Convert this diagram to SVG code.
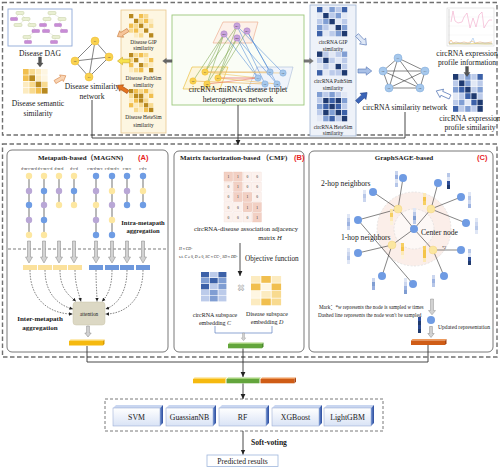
<svg xmlns="http://www.w3.org/2000/svg" width="500" height="467" viewBox="0 0 500 467">
<defs>
<style>
text{font-family:"Liberation Serif","Times New Roman","Noto Sans CJK SC",serif;fill:#1a1a1a}
.lbl{font-size:7.6px;text-anchor:middle}
.sm{font-size:5.3px;text-anchor:middle}
.tt{font-size:7px;font-weight:bold}
.red{font-family:"Liberation Sans",Arial,sans-serif;font-weight:bold;fill:#e8231e;font-size:7.5px}
.dbox{fill:none;stroke:#707070;stroke-width:1.4;stroke-dasharray:4.5 2.5}
.panel{fill:#fff;stroke:#555;stroke-width:0.8}
.conn{fill:none;stroke:#333;stroke-width:0.9}
.e{stroke:#333;stroke-width:0.6}
.ch{stroke:#8a8a8a;stroke-width:1.2}
.ny{fill:#fde7a0}
.np{fill:#b9a7d6}
.nb{fill:#6e9ce4}
.ga{fill:#d2d2d2;stroke:#858585;stroke-width:0.5}
.dl{fill:none;stroke:#333;stroke-width:0.6;stroke-dasharray:1.6 1.2}
.y0{fill:#b8891f}.y1{fill:#f1bf4f}.y2{fill:#f8da8f}.y3{fill:#fcebc0}.y4{fill:#fef6e2}
.b0{fill:#1f3a70}.b1{fill:#3c61a8}.b2{fill:#809ed3}.b3{fill:#bccbea}.b4{fill:#e2e8f5}
.dn{fill:#f9d250;stroke:#eeb82e;stroke-width:0.5}
.cn{fill:#a6c8ec;stroke:#7fa9d8;stroke-width:0.5}
.mn{fill:#c9a3dc;stroke:#a982c2;stroke-width:0.5}
.nl{font-size:2.6px;text-anchor:middle;fill:#444}
.gd{fill:#e9efd2;stroke:#b9c58f;stroke-width:0.4}
.pu{fill:#c88bd6;stroke:#a86ab8;stroke-width:0.4}
.a1{fill:#f2d0c4;stroke:#e6b8aa;stroke-width:0.3}
.a0{fill:#fcf1ed;stroke:#f0ddd6;stroke-width:0.3}
.av{font-size:3.6px;text-anchor:middle;fill:#555}
.cf{fill:url(#gf);stroke:#8ea3cf;stroke-width:0.5}
.cs{fill:url(#gs2)}
.ct{fill:#c9d6f0}
</style>
<linearGradient id="gf" x1="0" y1="0" x2="0" y2="1"><stop offset="0" stop-color="#ffffff"/><stop offset="1" stop-color="#d9e3f6"/></linearGradient>
<linearGradient id="gs2" x1="0" y1="0" x2="1" y2="0"><stop offset="0" stop-color="#6d8fd2"/><stop offset="1" stop-color="#2b4b9c"/></linearGradient>
<marker id="ah" markerWidth="6" markerHeight="6" refX="5" refY="3" orient="auto" markerUnits="userSpaceOnUse"><path d="M0,0.6 L5,3 L0,5.4Z" fill="#222"/></marker>
<marker id="ahs" markerWidth="4" markerHeight="4" refX="3.6" refY="2" orient="auto" markerUnits="userSpaceOnUse"><path d="M0,0.3 L3.6,2 L0,3.7Z" fill="#222"/></marker>
<path id="ba" d="M0,-1.8H7.5V-3.8L12.5,0L7.5,3.8V1.8H0Z"/>
<path id="gl" d="M-1.5,0V16H-3.5L0,22L3.5,16H1.5V0Z"/>
<path id="gsa" d="M-1.4,0V7H-3.2L0,11L3.2,7H1.4V0Z"/>
</defs>

<!-- outer dashed boxes -->
<rect class="dbox" x="2.5" y="2.5" width="494.5" height="132.5"/>
<rect class="dbox" x="2.5" y="144" width="494.5" height="213"/>

<!-- Disease DAG -->
<g id="disease-dag">
<rect x="8" y="9" width="64" height="37" fill="#fff" stroke="#8fa8d8" stroke-width="0.9"/>
<g stroke="#c9cfb0" stroke-width="0.35">
<line x1="20" y1="13" x2="14" y2="19"/><line x1="20" y1="13" x2="26" y2="19"/>
<line x1="52" y1="13" x2="47" y2="19"/><line x1="52" y1="13" x2="62" y2="19"/>
<line x1="26" y1="19" x2="18" y2="25"/><line x1="26" y1="19" x2="32" y2="25"/>
<line x1="47" y1="19" x2="43" y2="25"/><line x1="62" y1="19" x2="58" y2="25"/>
<line x1="32" y1="25" x2="36" y2="31"/><line x1="43" y1="25" x2="46" y2="31"/>
<line x1="58" y1="25" x2="64" y2="31"/><line x1="36" y1="31" x2="27" y2="37"/>
<line x1="46" y1="31" x2="56" y2="37"/><line x1="27" y1="37" x2="28" y2="42"/><line x1="56" y1="37" x2="54" y2="42"/>
</g>
<rect class="gd" x="16" y="11.5" width="8" height="3" rx="1"/>
<rect class="gd" x="48" y="11.5" width="8" height="3" rx="1"/>
<rect class="pu" x="10.5" y="17.5" width="7" height="3" rx="0.6"/>
<rect class="gd" x="22" y="17.5" width="8" height="3" rx="1"/>
<rect class="gd" x="43" y="17.5" width="8" height="3" rx="1"/>
<rect class="gd" x="58" y="17.5" width="8" height="3" rx="1"/>
<rect class="gd" x="14" y="23.5" width="8" height="3" rx="1"/>
<rect class="gd" x="28" y="23.5" width="8" height="3" rx="1"/>
<rect class="pu" x="39.5" y="23.5" width="7" height="3" rx="0.6"/>
<rect class="pu" x="54.5" y="23.5" width="7" height="3" rx="0.6"/>
<rect class="pu" x="32" y="29.5" width="7.5" height="3" rx="0.6"/>
<rect class="pu" x="42.5" y="29.5" width="7" height="3" rx="0.6"/>
<rect class="pu" x="60.5" y="29.5" width="7" height="3" rx="0.6"/>
<rect class="gd" x="23" y="35.5" width="8" height="3" rx="1"/>
<rect class="gd" x="52" y="35.5" width="8" height="3" rx="1"/>
<rect class="pu" x="24.5" y="40.5" width="7" height="3" rx="0.6"/>
<rect class="pu" x="50.5" y="40.5" width="7" height="3" rx="0.6"/>
<text class="lbl" x="40" y="55.5">Disease DAG</text>
</g>

<!-- Disease semantic similarity -->
<g id="disease-semantic">
<rect class="y1" x="23" y="69" width="5.7" height="5.7"/><rect class="y2" x="29.3" y="69" width="5.7" height="5.7"/><rect class="y3" x="35.6" y="69" width="5.7" height="5.7"/><rect class="y4" x="41.9" y="69" width="5.7" height="5.7"/>
<rect class="y1" x="23" y="75.3" width="5.7" height="5.7"/><rect class="y0" x="29.3" y="75.3" width="5.7" height="5.7"/><rect class="y3" x="35.6" y="75.3" width="5.7" height="5.7"/><rect class="y4" x="41.9" y="75.3" width="5.7" height="5.7"/>
<rect class="y3" x="23" y="81.6" width="5.7" height="5.7"/><rect class="y2" x="29.3" y="81.6" width="5.7" height="5.7"/><rect class="y0" x="35.6" y="81.6" width="5.7" height="5.7"/><rect class="y2" x="41.9" y="81.6" width="5.7" height="5.7"/>
<rect class="y3" x="23" y="87.9" width="5.7" height="5.7"/><rect class="y2" x="29.3" y="87.9" width="5.7" height="5.7"/><rect class="y1" x="35.6" y="87.9" width="5.7" height="5.7"/><rect class="y0" x="41.9" y="87.9" width="5.7" height="5.7"/>
<text class="lbl" x="38" y="105.5">Disease semantic</text>
<text class="lbl" x="38" y="115.5">similarity</text>
</g>

<!-- Disease similarity network -->
<g id="disease-sim-network">
<g class="e"><line x1="95" y1="41" x2="75" y2="61"/><line x1="95" y1="41" x2="109" y2="57"/><line x1="95" y1="41" x2="89" y2="77"/><line x1="75" y1="61" x2="109" y2="57"/><line x1="75" y1="61" x2="89" y2="77"/><line x1="109" y1="57" x2="89" y2="77"/></g>
<circle class="dn" cx="95" cy="41" r="4"/><circle class="dn" cx="75" cy="61" r="4"/><circle class="dn" cx="109" cy="57" r="4"/><circle class="dn" cx="89" cy="77" r="4"/>
<text class="nl" x="95" y="42">d1</text><text class="nl" x="75" y="62">d2</text><text class="nl" x="109" y="58">d4</text><text class="nl" x="89" y="78">d3</text>
<text class="lbl" x="92" y="88.5">Disease similarity</text>
<text class="lbl" x="92" y="98.5">network</text>
</g>

<!-- Disease similarity matrices panel -->
<g id="disease-sim-panel">
<rect x="121" y="10" width="45" height="123" fill="#fdf6e1" stroke="#e8c98e" stroke-width="0.8"/>
<g>
<rect class="y0" x="129" y="14" width="4.3" height="4.3"/><rect class="y4" x="134" y="14" width="4.3" height="4.3"/><rect class="y1" x="139" y="14" width="4.3" height="4.3"/><rect class="y2" x="144" y="14" width="4.3" height="4.3"/><rect class="y4" x="149" y="14" width="4.3" height="4.3"/>
<rect class="y4" x="129" y="18.8" width="4.3" height="4.3"/><rect class="y0" x="134" y="18.8" width="4.3" height="4.3"/><rect class="y2" x="139" y="18.8" width="4.3" height="4.3"/><rect class="y1" x="144" y="18.8" width="4.3" height="4.3"/><rect class="y3" x="149" y="18.8" width="4.3" height="4.3"/>
<rect class="y1" x="129" y="23.6" width="4.3" height="4.3"/><rect class="y2" x="134" y="23.6" width="4.3" height="4.3"/><rect class="y0" x="139" y="23.6" width="4.3" height="4.3"/><rect class="y3" x="144" y="23.6" width="4.3" height="4.3"/><rect class="y2" x="149" y="23.6" width="4.3" height="4.3"/>
<rect class="y2" x="129" y="28.4" width="4.3" height="4.3"/><rect class="y1" x="134" y="28.4" width="4.3" height="4.3"/><rect class="y3" x="139" y="28.4" width="4.3" height="4.3"/><rect class="y0" x="144" y="28.4" width="4.3" height="4.3"/><rect class="y4" x="149" y="28.4" width="4.3" height="4.3"/>
<rect class="y4" x="129" y="33.2" width="4.3" height="4.3"/><rect class="y3" x="134" y="33.2" width="4.3" height="4.3"/><rect class="y2" x="139" y="33.2" width="4.3" height="4.3"/><rect class="y4" x="144" y="33.2" width="4.3" height="4.3"/><rect class="y0" x="149" y="33.2" width="4.3" height="4.3"/>
</g>
<text class="sm" x="143.5" y="43.5">Disease GIP</text><text class="sm" x="143.5" y="50">similarity</text>
<g>
<rect class="y0" x="129" y="53" width="4.3" height="4.3"/><rect class="y2" x="134" y="53" width="4.3" height="4.3"/><rect class="y1" x="139" y="53" width="4.3" height="4.3"/><rect class="y2" x="144" y="53" width="4.3" height="4.3"/><rect class="y4" x="149" y="53" width="4.3" height="4.3"/>
<rect class="y2" x="129" y="58" width="4.3" height="4.3"/><rect class="y0" x="134" y="58" width="4.3" height="4.3"/><rect class="y4" x="139" y="58" width="4.3" height="4.3"/><rect class="y3" x="144" y="58" width="4.3" height="4.3"/><rect class="y1" x="149" y="58" width="4.3" height="4.3"/>
<rect class="y1" x="129" y="63" width="4.3" height="4.3"/><rect class="y4" x="134" y="63" width="4.3" height="4.3"/><rect class="y0" x="139" y="63" width="4.3" height="4.3"/><rect class="y2" x="144" y="63" width="4.3" height="4.3"/><rect class="y3" x="149" y="63" width="4.3" height="4.3"/>
<rect class="y3" x="129" y="68" width="4.3" height="4.3"/><rect class="y2" x="134" y="68" width="4.3" height="4.3"/><rect class="y1" x="139" y="68" width="4.3" height="4.3"/><rect class="y4" x="144" y="68" width="4.3" height="4.3"/><rect class="y0" x="149" y="68" width="4.3" height="4.3"/>
</g>
<text class="sm" x="143.5" y="80">Disease PathSim</text><text class="sm" x="143.5" y="87">similarity</text>
<g>
<rect class="y0" x="129" y="89" width="4.3" height="4.3"/><rect class="y1" x="134" y="89" width="4.3" height="4.3"/><rect class="y2" x="139" y="89" width="4.3" height="4.3"/><rect class="y1" x="144" y="89" width="4.3" height="4.3"/><rect class="y3" x="149" y="89" width="4.3" height="4.3"/>
<rect class="y2" x="129" y="93.7" width="4.3" height="4.3"/><rect class="y0" x="134" y="93.7" width="4.3" height="4.3"/><rect class="y0" x="139" y="93.7" width="4.3" height="4.3"/><rect class="y3" x="144" y="93.7" width="4.3" height="4.3"/><rect class="y1" x="149" y="93.7" width="4.3" height="4.3"/>
<rect class="y3" x="129" y="98.4" width="4.3" height="4.3"/><rect class="y1" x="134" y="98.4" width="4.3" height="4.3"/><rect class="y0" x="139" y="98.4" width="4.3" height="4.3"/><rect class="y2" x="144" y="98.4" width="4.3" height="4.3"/><rect class="y4" x="149" y="98.4" width="4.3" height="4.3"/>
<rect class="y1" x="129" y="103.1" width="4.3" height="4.3"/><rect class="y3" x="134" y="103.1" width="4.3" height="4.3"/><rect class="y2" x="139" y="103.1" width="4.3" height="4.3"/><rect class="y0" x="144" y="103.1" width="4.3" height="4.3"/><rect class="y2" x="149" y="103.1" width="4.3" height="4.3"/>
<rect class="y4" x="129" y="107.8" width="4.3" height="4.3"/><rect class="y2" x="134" y="107.8" width="4.3" height="4.3"/><rect class="y3" x="139" y="107.8" width="4.3" height="4.3"/><rect class="y1" x="144" y="107.8" width="4.3" height="4.3"/><rect class="y0" x="149" y="107.8" width="4.3" height="4.3"/>
</g>
<text class="sm" x="143.5" y="119">Disease HeteSim</text><text class="sm" x="143.5" y="127">similarity</text>
</g>

<!-- Heterogeneous network -->
<g id="hetero-network">
<rect x="172" y="15" width="132" height="90" fill="#fafdf6" stroke="#9cc77c" stroke-width="0.9"/>
<polygon points="223,22 258,22 252,43 213,43" fill="#fdf1e9" stroke="#eba584" stroke-width="0.6"/>
<polygon points="192,67 228,67 220,89 183,89" fill="#fdf6dc" stroke="#e9b82c" stroke-width="0.6"/>
<polygon points="257,67 293,67 287,89 248,89" fill="#f0f4fb" stroke="#a9bcd8" stroke-width="0.6"/>
<g stroke="#6f9d3c" stroke-width="0.5">
<line x1="224" y1="34" x2="193" y2="81"/><line x1="224" y1="34" x2="205" y2="72"/><line x1="237" y1="26" x2="205" y2="72"/><line x1="237" y1="26" x2="218" y2="78"/><line x1="237" y1="38" x2="218" y2="78"/><line x1="237" y1="38" x2="207" y2="84"/><line x1="224" y1="34" x2="207" y2="84"/><line x1="247" y1="31" x2="218" y2="78"/>
</g>
<g stroke="#3c7fd2" stroke-width="0.5">
<line x1="237" y1="26" x2="283" y2="73"/><line x1="247" y1="31" x2="270" y2="72"/><line x1="237" y1="38" x2="258" y2="78"/><line x1="237" y1="38" x2="277" y2="84"/><line x1="247" y1="31" x2="277" y2="84"/><line x1="237" y1="26" x2="265" y2="84"/><line x1="224" y1="34" x2="258" y2="78"/>
</g>
<g stroke-width="0.6">
<line x1="205" y1="72" x2="270" y2="72" stroke="#e9a846"/><line x1="205" y1="72" x2="258" y2="78" stroke="#f0c462"/><line x1="218" y1="78" x2="258" y2="78" stroke="#e24b4b"/><line x1="193" y1="81" x2="265" y2="84" stroke="#e9a846"/><line x1="207" y1="84" x2="258" y2="78" stroke="#e8705e"/><line x1="218" y1="78" x2="277" y2="84" stroke="#f0b252"/><line x1="205" y1="72" x2="283" y2="73" stroke="#ecc06a"/>
</g>
<circle class="mn" cx="237" cy="26" r="3.2"/><circle class="mn" cx="224" cy="34" r="3.2"/><circle class="mn" cx="247" cy="31" r="3.2"/><circle class="mn" cx="237" cy="38" r="3.2"/>
<text class="nl" x="237" y="27">m1</text><text class="nl" x="224" y="35">m2</text><text class="nl" x="247" y="32">m3</text><text class="nl" x="237" y="39">m4</text>
<circle class="dn" cx="205" cy="72" r="3.2"/><circle class="dn" cx="193" cy="81" r="3.2"/><circle class="dn" cx="218" cy="78" r="3.2"/><circle class="dn" cx="207" cy="84" r="3.2"/>
<text class="nl" x="205" y="73">d1</text><text class="nl" x="193" y="82">d2</text><text class="nl" x="218" y="79">d3</text><text class="nl" x="207" y="85">d4</text>
<circle class="cn" cx="270" cy="72" r="3.2"/><circle class="cn" cx="283" cy="73" r="3.2"/><circle class="cn" cx="258" cy="78" r="3.2"/><circle class="cn" cx="277" cy="84" r="3.2"/><circle class="cn" cx="265" cy="84" r="3.2"/>
<text class="nl" x="270" y="73">c1</text><text class="nl" x="283" y="74">c2</text><text class="nl" x="258" y="79">c3</text><text class="nl" x="277" y="85">c4</text><text class="nl" x="265" y="85">c5</text>
<text class="lbl" x="238" y="92">circRNA-miRNA-disease triplet</text>
<text class="lbl" x="238" y="101.5">heterogeneous network</text>
</g>

<!-- circRNA similarity matrices panel -->
<g id="circ-sim-panel">
<rect x="310" y="5" width="46" height="131" fill="#eef2f9" stroke="#9fb3d3" stroke-width="0.8"/>
<g>
<rect class="b1" x="317" y="7" width="5.4" height="5.3"/><rect class="b4" x="323.2" y="7" width="5.4" height="5.3"/><rect class="b2" x="329.4" y="7" width="5.4" height="5.3"/><rect class="b3" x="335.6" y="7" width="5.4" height="5.3"/><rect class="b1" x="341.8" y="7" width="5.4" height="5.3"/>
<rect class="b4" x="317" y="13" width="5.4" height="5.3"/><rect class="b0" x="323.2" y="13" width="5.4" height="5.3"/><rect class="b3" x="329.4" y="13" width="5.4" height="5.3"/><rect class="b2" x="335.6" y="13" width="5.4" height="5.3"/><rect class="b4" x="341.8" y="13" width="5.4" height="5.3"/>
<rect class="b3" x="317" y="19" width="5.4" height="5.3"/><rect class="b2" x="323.2" y="19" width="5.4" height="5.3"/><rect class="b0" x="329.4" y="19" width="5.4" height="5.3"/><rect class="b4" x="335.6" y="19" width="5.4" height="5.3"/><rect class="b3" x="341.8" y="19" width="5.4" height="5.3"/>
<rect class="b2" x="317" y="25" width="5.4" height="5.3"/><rect class="b3" x="323.2" y="25" width="5.4" height="5.3"/><rect class="b4" x="329.4" y="25" width="5.4" height="5.3"/><rect class="b0" x="335.6" y="25" width="5.4" height="5.3"/><rect class="b2" x="341.8" y="25" width="5.4" height="5.3"/>
<rect class="b1" x="317" y="31" width="5.4" height="5.3"/><rect class="b4" x="323.2" y="31" width="5.4" height="5.3"/><rect class="b3" x="329.4" y="31" width="5.4" height="5.3"/><rect class="b2" x="335.6" y="31" width="5.4" height="5.3"/><rect class="b0" x="341.8" y="31" width="5.4" height="5.3"/>
</g>
<text class="sm" x="333" y="44">circRNA GIP</text><text class="sm" x="333" y="50.5">similarity</text>
<g>
<rect class="b0" x="317" y="51.5" width="5.4" height="5.4"/><rect class="b3" x="323.2" y="51.5" width="5.4" height="5.4"/><rect class="b4" x="329.4" y="51.5" width="5.4" height="5.4"/><rect class="b3" x="335.6" y="51.5" width="5.4" height="5.4"/><rect class="b2" x="341.8" y="51.5" width="5.4" height="5.4"/>
<rect class="b3" x="317" y="57.7" width="5.4" height="5.4"/><rect class="b0" x="323.2" y="57.7" width="5.4" height="5.4"/><rect class="b3" x="329.4" y="57.7" width="5.4" height="5.4"/><rect class="b4" x="335.6" y="57.7" width="5.4" height="5.4"/><rect class="b3" x="341.8" y="57.7" width="5.4" height="5.4"/>
<rect class="b4" x="317" y="63.9" width="5.4" height="5.4"/><rect class="b3" x="323.2" y="63.9" width="5.4" height="5.4"/><rect class="b4" x="329.4" y="63.9" width="5.4" height="5.4"/><rect class="b0" x="335.6" y="63.9" width="5.4" height="5.4"/><rect class="b3" x="341.8" y="63.9" width="5.4" height="5.4"/>
<rect class="b1" x="317" y="70.1" width="5.4" height="5.4"/><rect class="b4" x="323.2" y="70.1" width="5.4" height="5.4"/><rect class="b3" x="329.4" y="70.1" width="5.4" height="5.4"/><rect class="b3" x="335.6" y="70.1" width="5.4" height="5.4"/><rect class="b0" x="341.8" y="70.1" width="5.4" height="5.4"/>
</g>
<text class="sm" x="333" y="83">circRNA PathSim</text><text class="sm" x="333" y="90">similarity</text>
<g>
<rect class="b2" x="317" y="92" width="5.4" height="5.3"/><rect class="b3" x="323.2" y="92" width="5.4" height="5.3"/><rect class="b2" x="329.4" y="92" width="5.4" height="5.3"/><rect class="b3" x="335.6" y="92" width="5.4" height="5.3"/><rect class="b4" x="341.8" y="92" width="5.4" height="5.3"/>
<rect class="b3" x="317" y="98" width="5.4" height="5.3"/><rect class="b0" x="323.2" y="98" width="5.4" height="5.3"/><rect class="b1" x="329.4" y="98" width="5.4" height="5.3"/><rect class="b0" x="335.6" y="98" width="5.4" height="5.3"/><rect class="b2" x="341.8" y="98" width="5.4" height="5.3"/>
<rect class="b2" x="317" y="104" width="5.4" height="5.3"/><rect class="b1" x="323.2" y="104" width="5.4" height="5.3"/><rect class="b0" x="329.4" y="104" width="5.4" height="5.3"/><rect class="b1" x="335.6" y="104" width="5.4" height="5.3"/><rect class="b3" x="341.8" y="104" width="5.4" height="5.3"/>
<rect class="b3" x="317" y="110" width="5.4" height="5.3"/><rect class="b0" x="323.2" y="110" width="5.4" height="5.3"/><rect class="b2" x="329.4" y="110" width="5.4" height="5.3"/><rect class="b0" x="335.6" y="110" width="5.4" height="5.3"/><rect class="b1" x="341.8" y="110" width="5.4" height="5.3"/>
<rect class="b4" x="317" y="116" width="5.4" height="5.3"/><rect class="b2" x="323.2" y="116" width="5.4" height="5.3"/><rect class="b1" x="329.4" y="116" width="5.4" height="5.3"/><rect class="b3" x="335.6" y="116" width="5.4" height="5.3"/><rect class="b0" x="341.8" y="116" width="5.4" height="5.3"/>
</g>
<text class="sm" x="333" y="128.5">circRNA HeteSim</text><text class="sm" x="333" y="135">similarity</text>
</g>

<!-- circRNA similarity network -->
<g id="circ-sim-network">
<g class="e"><line x1="398" y1="58" x2="383" y2="71"/><line x1="398" y1="58" x2="425" y2="71"/><line x1="398" y1="58" x2="420" y2="88"/><line x1="398" y1="58" x2="389" y2="88"/><line x1="383" y1="71" x2="425" y2="71"/><line x1="383" y1="71" x2="420" y2="88"/><line x1="383" y1="71" x2="389" y2="88"/><line x1="425" y1="71" x2="420" y2="88"/><line x1="425" y1="71" x2="389" y2="88"/><line x1="420" y1="88" x2="389" y2="88"/></g>
<circle class="cn" cx="398" cy="58" r="4"/><circle class="cn" cx="383" cy="71" r="4"/><circle class="cn" cx="425" cy="71" r="4"/><circle class="cn" cx="420" cy="88" r="4"/><circle class="cn" cx="389" cy="88" r="4"/>
<text class="nl" x="398" y="59">c1</text><text class="nl" x="383" y="72">c2</text><text class="nl" x="425" y="72">c3</text><text class="nl" x="420" y="89">c4</text><text class="nl" x="389" y="89">c5</text>
<text class="lbl" x="405" y="109.5">circRNA similarity network</text>
</g>

<!-- circRNA expression profile information -->
<g id="circ-expr-info">
<rect x="447" y="8" width="47" height="38" fill="#fff" stroke="#cfcfcf" stroke-width="0.5"/>
<g stroke="#eeeeee" stroke-width="0.4"><line x1="448" y1="17" x2="494" y2="17"/><line x1="448" y1="26" x2="494" y2="26"/><line x1="448" y1="35" x2="494" y2="35"/></g>
<line x1="449" y1="9" x2="449" y2="44" stroke="#999" stroke-width="0.4"/>
<line x1="449" y1="44" x2="493" y2="44" stroke="#999" stroke-width="0.4"/>
<polyline points="451,22 453,11 455,21 458,23 462,22 464,17 467,13 470,28 473,18 476,27 479,15 482,12 484,28 487,23 489,20 492,20" fill="none" stroke="#f2a7c9" stroke-width="0.6"/>
<polyline points="449,43 451,40 453,43 456,42 460,43 464,42 468,43 472,41 475,43 480,42 485,43 492,42" fill="none" stroke="#f0a050" stroke-width="0.5"/>
<polyline points="449,43.5 460,43 470,43.5 473,38 475,43.5 485,43 492,43.5" fill="none" stroke="#8cb8e8" stroke-width="0.5"/>
<polyline points="449,44 458,43.5 466,44 476,43.5 486,44 492,43.8" fill="none" stroke="#f2d040" stroke-width="0.5"/>
<text class="lbl" x="467" y="55.5">circRNA expression</text>
<text class="lbl" x="467" y="65">profile information</text>
</g>

<!-- circRNA expression profile similarity -->
<g id="circ-expr-sim">
<rect class="b0" x="453" y="74" width="5.4" height="5.8"/><rect class="b3" x="459.1" y="74" width="5.4" height="5.8"/><rect class="b2" x="465.2" y="74" width="5.4" height="5.8"/><rect class="b3" x="471.3" y="74" width="5.4" height="5.8"/><rect class="b1" x="477.4" y="74" width="5.4" height="5.8"/>
<rect class="b3" x="453" y="80.4" width="5.4" height="5.8"/><rect class="b0" x="459.1" y="80.4" width="5.4" height="5.8"/><rect class="b2" x="465.2" y="80.4" width="5.4" height="5.8"/><rect class="b4" x="471.3" y="80.4" width="5.4" height="5.8"/><rect class="b3" x="477.4" y="80.4" width="5.4" height="5.8"/>
<rect class="b2" x="453" y="86.8" width="5.4" height="5.8"/><rect class="b1" x="459.1" y="86.8" width="5.4" height="5.8"/><rect class="b0" x="465.2" y="86.8" width="5.4" height="5.8"/><rect class="b3" x="471.3" y="86.8" width="5.4" height="5.8"/><rect class="b2" x="477.4" y="86.8" width="5.4" height="5.8"/>
<rect class="b4" x="453" y="93.2" width="5.4" height="5.8"/><rect class="b3" x="459.1" y="93.2" width="5.4" height="5.8"/><rect class="b1" x="465.2" y="93.2" width="5.4" height="5.8"/><rect class="b0" x="471.3" y="93.2" width="5.4" height="5.8"/><rect class="b3" x="477.4" y="93.2" width="5.4" height="5.8"/>
<rect class="b3" x="453" y="99.6" width="5.4" height="5.8"/><rect class="b2" x="459.1" y="99.6" width="5.4" height="5.8"/><rect class="b4" x="465.2" y="99.6" width="5.4" height="5.8"/><rect class="b1" x="471.3" y="99.6" width="5.4" height="5.8"/><rect class="b0" x="477.4" y="99.6" width="5.4" height="5.8"/>
<rect class="b1" x="453" y="106" width="5.4" height="5.8"/><rect class="b3" x="459.1" y="106" width="5.4" height="5.8"/><rect class="b2" x="465.2" y="106" width="5.4" height="5.8"/><rect class="b3" x="471.3" y="106" width="5.4" height="5.8"/><rect class="b0" x="477.4" y="106" width="5.4" height="5.8"/>
<text class="lbl" x="470" y="120.5">circRNA expression</text>
<text class="lbl" x="470" y="129.5">profile similarity</text>
</g>

<!-- Panel A -->
<g id="panel-a">
<rect class="panel" x="7" y="150" width="161" height="202" rx="5"/>
<text class="tt" x="38" y="159.5">Metapath-based（MAGNN)</text>
<text class="red" x="138" y="160">(A)</text>
<g style="font-size:3.6px;text-anchor:middle;fill:#555">
<text x="29" y="170">d-m-c-m-d</text><text x="45" y="170">d-c-m-c-d</text><text x="59" y="170">d-m-d</text><text x="74" y="170">d-c-d</text>
<text x="95" y="170">c-m-d-m-c</text><text x="112" y="170">c-d-m-d-c</text><text x="127" y="170">c-m-c</text><text x="143" y="170">c-d-c</text>
</g>
<g class="ch">
<line x1="29" y1="176" x2="29" y2="235"/><line x1="44" y1="176" x2="44" y2="235"/><line x1="59" y1="176" x2="59" y2="205"/><line x1="74" y1="176" x2="74" y2="205"/>
<line x1="96" y1="176" x2="96" y2="235"/><line x1="112" y1="176" x2="112" y2="235"/><line x1="127" y1="176" x2="127" y2="205"/><line x1="143" y1="176" x2="143" y2="205"/>
</g>
<circle class="ny" cx="29" cy="176" r="3.2"/><circle class="np" cx="29" cy="191" r="3.2"/><circle class="nb" cx="29" cy="205" r="3.2"/><circle class="np" cx="29" cy="220" r="3.2"/><circle class="ny" cx="29" cy="235" r="3.2"/>
<circle class="ny" cx="44" cy="176" r="3.2"/><circle class="nb" cx="44" cy="191" r="3.2"/><circle class="np" cx="44" cy="205" r="3.2"/><circle class="nb" cx="44" cy="220" r="3.2"/><circle class="ny" cx="44" cy="235" r="3.2"/>
<circle class="ny" cx="59" cy="176" r="3.2"/><circle class="np" cx="59" cy="191" r="3.2"/><circle class="ny" cx="59" cy="205" r="3.2"/>
<circle class="ny" cx="74" cy="176" r="3.2"/><circle class="nb" cx="74" cy="191" r="3.2"/><circle class="ny" cx="74" cy="205" r="3.2"/>
<circle class="nb" cx="96" cy="176" r="3.2"/><circle class="np" cx="96" cy="191" r="3.2"/><circle class="ny" cx="96" cy="205" r="3.2"/><circle class="np" cx="96" cy="220" r="3.2"/><circle class="nb" cx="96" cy="235" r="3.2"/>
<circle class="nb" cx="112" cy="176" r="3.2"/><circle class="ny" cx="112" cy="191" r="3.2"/><circle class="np" cx="112" cy="205" r="3.2"/><circle class="ny" cx="112" cy="220" r="3.2"/><circle class="nb" cx="112" cy="235" r="3.2"/>
<circle class="nb" cx="127" cy="176" r="3.2"/><circle class="np" cx="127" cy="191" r="3.2"/><circle class="nb" cx="127" cy="205" r="3.2"/>
<circle class="nb" cx="143" cy="176" r="3.2"/><circle class="ny" cx="143" cy="191" r="3.2"/><circle class="nb" cx="143" cy="205" r="3.2"/>
<text class="tt" x="143" y="225" style="font-size:6.6px;text-anchor:middle">Intra-metapath</text>
<text class="tt" x="143" y="232.5" style="font-size:6.6px;text-anchor:middle">aggregation</text>
<line x1="8" y1="249" x2="167" y2="249" stroke="#444" stroke-width="0.7" stroke-dasharray="3 2"/>
<use href="#gl" class="ga" transform="translate(29,241)"/><use href="#gl" class="ga" transform="translate(44,241)"/><use href="#gl" class="ga" transform="translate(59,241)"/><use href="#gl" class="ga" transform="translate(74,241)"/>
<use href="#gl" class="ga" transform="translate(96,241)"/><use href="#gl" class="ga" transform="translate(112,241)"/><use href="#gl" class="ga" transform="translate(127,241)"/><use href="#gl" class="ga" transform="translate(143,241)"/>
<g fill="#fbe19c"><rect x="23" y="265" width="14" height="5"/><rect x="38" y="265" width="14" height="5"/><rect x="53" y="265" width="14" height="5"/><rect x="68" y="265" width="14" height="5"/></g>
<g fill="#6e98dc"><rect x="89" y="265" width="14" height="5"/><rect x="105" y="265" width="14" height="5"/><rect x="120" y="265" width="14" height="5"/><rect x="136" y="265" width="14" height="5"/></g>
<g class="dl">
<path d="M30,270 C30,300 50,314 72.5,314" marker-end="url(#ahs)"/>
<path d="M45,270 C45,295 60,306 73,309" marker-end="url(#ahs)"/>
<path d="M60,270 C60,290 70,296 76,301.5" marker-end="url(#ahs)"/>
<path d="M75,270 C75,285 79,294 81,301.5" marker-end="url(#ahs)"/>
<path d="M96,270 C96,285 97,294 97,301.5" marker-end="url(#ahs)"/>
<path d="M112,270 C112,290 106,297 102,301.5" marker-end="url(#ahs)"/>
<path d="M127,270 C127,295 115,306 105.5,309" marker-end="url(#ahs)"/>
<path d="M143,270 C143,300 125,314 105.5,314" marker-end="url(#ahs)"/>
</g>
<rect x="73" y="302" width="32" height="23" rx="3" fill="#dcd8c4" stroke="#cbc5ab" stroke-width="0.5"/>
<text x="89" y="316" style="font-size:5.2px;text-anchor:middle">attention</text>
<use href="#gsa" class="ga" transform="translate(88,326)"/>
<text class="tt" x="40" y="320.5" style="font-size:7px;text-anchor:middle">Inter-metapath</text>
<text class="tt" x="40" y="329.5" style="font-size:7px;text-anchor:middle">aggregation</text>
<polygon points="70.5,339.5 104.5,339.5 103,341 69,341" fill="#fcd86a"/>
<rect x="69" y="341" width="34" height="4.5" fill="#f5b90f"/>
<polygon points="103,341 104.5,339.5 104.5,344 103,345.5" fill="#d99b00"/>
</g>

<!-- Panel B -->
<g id="panel-b">
<rect class="panel" x="174" y="151" width="130" height="201" rx="5"/>
<text class="tt" x="180" y="160">Matrix factorization-based （CMF)</text>
<text class="red" x="294" y="160">(B)</text>
<rect class="a1" x="224" y="172" width="8.6" height="9.2"/><rect class="a1" x="233.6" y="172" width="8.6" height="9.2"/><rect class="a0" x="243.2" y="172" width="8.6" height="9.2"/><rect class="a0" x="252.8" y="172" width="8.6" height="9.2"/>
<rect class="a0" x="224" y="182.2" width="8.6" height="9.2"/><rect class="a1" x="233.6" y="182.2" width="8.6" height="9.2"/><rect class="a0" x="243.2" y="182.2" width="8.6" height="9.2"/><rect class="a0" x="252.8" y="182.2" width="8.6" height="9.2"/>
<rect class="a0" x="224" y="192.4" width="8.6" height="9.2"/><rect class="a1" x="233.6" y="192.4" width="8.6" height="9.2"/><rect class="a1" x="243.2" y="192.4" width="8.6" height="9.2"/><rect class="a0" x="252.8" y="192.4" width="8.6" height="9.2"/>
<rect class="a0" x="224" y="202.6" width="8.6" height="9.2"/><rect class="a0" x="233.6" y="202.6" width="8.6" height="9.2"/><rect class="a1" x="243.2" y="202.6" width="8.6" height="9.2"/><rect class="a1" x="252.8" y="202.6" width="8.6" height="9.2"/>
<rect class="a0" x="224" y="212.8" width="8.6" height="9.2"/><rect class="a0" x="233.6" y="212.8" width="8.6" height="9.2"/><rect class="a0" x="243.2" y="212.8" width="8.6" height="9.2"/><rect class="a1" x="252.8" y="212.8" width="8.6" height="9.2"/>
<g class="av">
<text x="228.3" y="177.9">1</text><text x="237.9" y="177.9">1</text><text x="247.5" y="177.9">0</text><text x="257.1" y="177.9">0</text>
<text x="228.3" y="188.1">0</text><text x="237.9" y="188.1">1</text><text x="247.5" y="188.1">0</text><text x="257.1" y="188.1">0</text>
<text x="228.3" y="198.3">0</text><text x="237.9" y="198.3">1</text><text x="247.5" y="198.3">1</text><text x="257.1" y="198.3">0</text>
<text x="228.3" y="208.5">0</text><text x="237.9" y="208.5">0</text><text x="247.5" y="208.5">1</text><text x="257.1" y="208.5">1</text>
<text x="228.3" y="218.7">0</text><text x="237.9" y="218.7">0</text><text x="247.5" y="218.7">0</text><text x="257.1" y="218.7">1</text>
</g>
<text x="246" y="231" style="font-size:6.6px;text-anchor:middle">circRNA-disease association adjacency</text>
<text x="270" y="240" style="font-size:6.6px;text-anchor:middle">matrix <tspan font-style="italic">H</tspan></text>
<text x="179" y="250" style="font-size:3.8px"><tspan font-style="italic">H</tspan> ≈ <tspan font-style="italic">CD</tspan><tspan dy="-1.2" style="font-size:2.6px">T</tspan></text>
<text x="179" y="258" style="font-size:3.8px">s.t. <tspan font-style="italic">C</tspan> ≥ 0, <tspan font-style="italic">D</tspan> ≥ 0, <tspan font-style="italic">SC</tspan> ≈ <tspan font-style="italic">CC</tspan><tspan dy="-1.2" style="font-size:2.6px">T</tspan><tspan dy="1.2">, </tspan><tspan font-style="italic">SD</tspan> ≈ <tspan font-style="italic">DD</tspan><tspan dy="-1.2" style="font-size:2.6px">T</tspan></text>
<line x1="240" y1="243" x2="240" y2="276" stroke="#222" stroke-width="0.8" marker-end="url(#ah)"/>
<text x="245" y="260.5" style="font-size:7.2px">Objective function</text>
<g>
<rect class="b1" x="201" y="272" width="8" height="5.4"/><rect class="b3" x="209.7" y="272" width="8" height="5.4"/><rect class="b1" x="218.4" y="272" width="8" height="5.4"/>
<rect class="b2" x="201" y="278" width="8" height="5.4"/><rect class="b1" x="209.7" y="278" width="8" height="5.4"/><rect class="b2" x="218.4" y="278" width="8" height="5.4"/>
<rect class="b1" x="201" y="284" width="8" height="5.4"/><rect class="b3" x="209.7" y="284" width="8" height="5.4"/><rect class="b2" x="218.4" y="284" width="8" height="5.4"/>
<rect class="b3" x="201" y="290" width="8" height="5.4"/><rect class="b2" x="209.7" y="290" width="8" height="5.4"/><rect class="b3" x="218.4" y="290" width="8" height="5.4"/>
<rect class="b3" x="201" y="296" width="8" height="5.4"/><rect class="b2" x="209.7" y="296" width="8" height="5.4"/><rect class="b3" x="218.4" y="296" width="8" height="5.4"/>
</g>
<text x="241" y="291" style="font-family:'DejaVu Sans',sans-serif;font-size:9px;text-anchor:middle;fill:#e0e0e0;stroke:#8a8a8a;stroke-width:0.3">✖</text>
<g>
<rect class="y3" x="251" y="276" width="9.5" height="6.8"/><rect class="y1" x="261.3" y="276" width="9.5" height="6.8"/><rect class="y3" x="271.6" y="276" width="9.5" height="6.8"/>
<rect class="y1" x="251" y="283.5" width="9.5" height="6.8"/><rect class="y4" x="261.3" y="283.5" width="9.5" height="6.8"/><rect class="y1" x="271.6" y="283.5" width="9.5" height="6.8"/>
<rect class="y4" x="251" y="291" width="9.5" height="6.8"/><rect class="y3" x="261.3" y="291" width="9.5" height="6.8"/><rect class="y2" x="271.6" y="291" width="9.5" height="6.8"/>
<rect class="y3" x="251" y="298.5" width="9.5" height="6.8"/><rect class="y1" x="261.3" y="298.5" width="9.5" height="6.8"/><rect class="y2" x="271.6" y="298.5" width="9.5" height="6.8"/>
</g>
<text x="215" y="316.5" style="font-size:6px;text-anchor:middle">circRNA subspace</text>
<text x="215" y="324.5" style="font-size:6px;text-anchor:middle">embedding <tspan font-style="italic">C</tspan></text>
<text x="267" y="315.5" style="font-size:6px;text-anchor:middle">Disease subspace</text>
<text x="267" y="323.5" style="font-size:6px;text-anchor:middle">embedding <tspan font-style="italic">D</tspan></text>
<path d="M215,326 V333 H272 V326" fill="none" stroke="#5b7fc0" stroke-width="0.7"/>
<use href="#gsa" class="ga" transform="translate(243.5,333) scale(0.7)"/>
<polygon points="229.5,342.5 263.5,342.5 262,344 228,344" fill="#a5d27a"/>
<rect x="228" y="344" width="34" height="4.3" fill="#63a53c"/>
<polygon points="262,344 263.5,342.5 263.5,346.8 262,348.3" fill="#4a8a2a"/>
</g>

<!-- Panel C -->
<g id="panel-c">
<rect class="panel" x="309" y="151" width="184" height="201" rx="5"/>
<text class="tt" x="404" y="160" style="text-anchor:middle">GraphSAGE-based</text>
<text class="red" x="477" y="160">(C)</text>
<circle cx="414" cy="229" r="37" fill="#fbeee9" stroke="#d8d8d8" stroke-width="0.6" stroke-dasharray="2 1.5"/>
<circle cx="414" cy="229" r="20" fill="#fdf8f6" stroke="#d8d8d8" stroke-width="0.6" stroke-dasharray="2 1.5"/>
<g class="e">
<line x1="414" y1="229" x2="398" y2="209"/><line x1="414" y1="229" x2="431" y2="209"/><line x1="414" y1="229" x2="392" y2="245"/><line x1="414" y1="229" x2="433" y2="250"/>
<line x1="398" y1="209" x2="403" y2="178"/><line x1="398" y1="209" x2="373" y2="192"/><line x1="398" y1="209" x2="358" y2="220"/>
<line x1="431" y1="209" x2="438" y2="183"/><line x1="431" y1="209" x2="461" y2="197"/><line x1="431" y1="209" x2="466" y2="223"/>
<line x1="392" y1="245" x2="358" y2="253"/><line x1="392" y1="245" x2="382" y2="276"/><line x1="358" y1="220" x2="413" y2="284"/>
<line x1="433" y1="250" x2="461" y2="250"/><line x1="433" y1="250" x2="444" y2="276"/>
</g>
<g>
<rect x="395" y="171" width="3" height="4" fill="#c8d4ee"/><rect x="395" y="175" width="3" height="4" fill="#9ab0e0"/><rect x="395" y="179" width="3" height="4" fill="#dde4f4"/><rect x="395" y="183" width="3" height="4" fill="#b5c6e8"/>
<rect x="363" y="190" width="3" height="4" fill="#dfe6f5"/><rect x="363" y="194" width="3" height="4" fill="#b7c7e8"/><rect x="363" y="198" width="3" height="4" fill="#cbd6ef"/>
<rect x="347" y="214" width="3" height="4" fill="#dfe6f5"/><rect x="347" y="218" width="3" height="4" fill="#b7c7e8"/><rect x="347" y="222" width="3" height="4" fill="#9db3e1"/><rect x="347" y="226" width="3" height="4" fill="#cbd6ef"/>
<rect x="347" y="248" width="3" height="4" fill="#dfe6f5"/><rect x="347" y="252" width="3" height="4" fill="#cbd6ef"/><rect x="347" y="256" width="3" height="4" fill="#b7c7e8"/><rect x="347" y="260" width="3" height="4" fill="#dfe6f5"/>
<rect x="372" y="278" width="3" height="4" fill="#cbd6ef"/><rect x="372" y="282" width="3" height="4" fill="#7f9dd2"/><rect x="372" y="286" width="3" height="4" fill="#9ab0e0"/>
<rect x="404" y="278" width="3" height="4" fill="#dfe6f5"/><rect x="404" y="282" width="3" height="4" fill="#cbd6ef"/><rect x="404" y="286" width="3" height="4" fill="#9db3e1"/><rect x="404" y="290" width="3" height="4" fill="#7f9dd2"/>
<rect x="432" y="275" width="3" height="4" fill="#cbd6ef"/><rect x="432" y="279" width="3" height="4" fill="#9db3e1"/><rect x="432" y="283" width="3" height="4" fill="#b7c7e8"/>
<rect x="468" y="249" width="3" height="4" fill="#b7c7e8"/><rect x="468" y="253" width="3" height="4" fill="#dfe6f5"/><rect x="468" y="257" width="3" height="4" fill="#2f4f9a"/><rect x="468" y="261" width="3" height="4" fill="#1f3a6e"/>
<rect x="475" y="218" width="3" height="4" fill="#dfe6f5"/><rect x="475" y="222" width="3" height="4" fill="#cbd6ef"/><rect x="475" y="226" width="3" height="4" fill="#b7c7e8"/><rect x="475" y="230" width="3" height="4" fill="#dfe6f5"/>
<rect x="468" y="192" width="3" height="4" fill="#dfe6f5"/><rect x="468" y="196" width="3" height="4" fill="#b7c7e8"/><rect x="468" y="200" width="3" height="4" fill="#cbd6ef"/><rect x="468" y="204" width="3" height="4" fill="#9db3e1"/>
<rect x="447" y="173" width="3" height="4" fill="#b7c7e8"/><rect x="447" y="177" width="3" height="4" fill="#dfe6f5"/><rect x="447" y="181" width="3" height="4" fill="#2f4f9a"/><rect x="447" y="185" width="3" height="4" fill="#1f3a6e"/>
<rect x="390" y="209" width="3" height="4" fill="#fbe6a8"/><rect x="390" y="213" width="3" height="4" fill="#f6cf62"/><rect x="390" y="217" width="3" height="4" fill="#fde9b5"/><rect x="390" y="221" width="3" height="4" fill="#fdf2d8"/>
<rect x="423" y="193" width="3" height="4" fill="#fde9b5"/><rect x="423" y="197" width="3" height="4" fill="#f4c44a"/><rect x="423" y="201" width="3" height="4" fill="#f6cf62"/><rect x="423" y="205" width="3" height="4" fill="#fdf2d8"/>
<rect x="401" y="243" width="3" height="4" fill="#f6cf62"/><rect x="401" y="247" width="3" height="4" fill="#f4c44a"/><rect x="401" y="251" width="3" height="4" fill="#fde9b5"/><rect x="401" y="255" width="3" height="4" fill="#fdf2d8"/>
<rect x="423" y="246" width="3" height="4" fill="#f6cf62"/><rect x="423" y="250" width="3" height="4" fill="#f4c44a"/><rect x="423" y="254" width="3" height="4" fill="#f4c44a"/><rect x="423" y="258" width="3" height="4" fill="#fde9b5"/>
<rect x="413" y="208" width="3" height="4" fill="#dfe6f5"/><rect x="413" y="212" width="3" height="4" fill="#b7c7e8"/><rect x="413" y="216" width="3" height="4" fill="#7f9dd2"/><rect x="413" y="220" width="3" height="4" fill="#b7c7e8"/>
</g>
<g fill="#fbe6a0" stroke="#f2d27c" stroke-width="0.4">
<circle cx="398" cy="209" r="4"/><circle cx="431" cy="209" r="4"/><circle cx="392" cy="245" r="4"/><circle cx="433" cy="250" r="4"/>
</g>
<g fill="#6f9be3">
<circle cx="414" cy="229" r="4"/>
<circle cx="403" cy="178" r="4"/><circle cx="373" cy="192" r="4"/><circle cx="358" cy="220" r="4"/><circle cx="358" cy="253" r="4"/><circle cx="382" cy="276" r="4"/><circle cx="413" cy="284" r="4"/><circle cx="444" cy="276" r="4"/><circle cx="461" cy="250" r="4"/><circle cx="466" cy="223" r="4"/><circle cx="461" cy="197" r="4"/><circle cx="438" cy="183" r="4"/>
</g>
<text x="442" y="249" style="font-size:4.2px">*2</text>
<text x="321" y="185.5" style="font-size:7.6px">2-hop neighbors</text>
<text x="341" y="239.5" style="font-size:7.6px">1-hop neighbors</text>
<text x="421" y="234.5" style="font-size:7.6px">Center node</text>
<text x="319" y="308.5" style="font-size:5.2px">Mark：*<tspan font-style="italic">w</tspan> represents the node is sampled <tspan font-style="italic">w</tspan> times</text>
<text x="318" y="316.5" style="font-size:5.2px">Dashed line represents the node won't be sampled</text>
<use href="#gl" class="ga" transform="translate(432,299) scale(1,0.72)"/>
<circle cx="431" cy="320" r="4" fill="#6f9be3"/>
<rect x="418" y="317" width="3" height="4" fill="#3050a0"/><rect x="418" y="321" width="3" height="4" fill="#1f3a6e"/><rect x="418" y="325" width="3" height="4" fill="#2a4890"/><rect x="418" y="329" width="3" height="4" fill="#1f3a6e"/>
<text x="438" y="329" style="font-size:5.6px">Updated representation</text>
<use href="#gsa" class="ga" transform="translate(431,326.5)"/>
<polygon points="412.5,339 446.5,339 445,340.5 411,340.5" fill="#ee9a5c"/>
<rect x="411" y="340.5" width="34" height="4.5" fill="#cf5c16"/>
<polygon points="445,340.5 446.5,339 446.5,343.5 445,345" fill="#a84410"/>
</g>

<!-- concatenated features -->
<g id="feature-concat">
<polygon points="194.5,377.5 227,377.5 225.5,379 193,379" fill="#fcd86a"/>
<rect x="193" y="379" width="32.5" height="4.3" fill="#f5b90f"/>
<polygon points="228,377.5 261,377.5 259.5,379 226.5,379" fill="#a5d27a"/>
<rect x="226.5" y="379" width="33" height="4.3" fill="#63a53c"/>
<polygon points="262,377.5 296,377.5 294.5,379 260.5,379" fill="#ee9a5c"/>
<rect x="260.5" y="379" width="34" height="4.3" fill="#cf5c16"/>
<polygon points="294.5,379 296,377.5 296,381.8 294.5,383.3" fill="#a84410"/>
</g>

<!-- classifiers -->
<g id="classifiers">
<rect x="105" y="399" width="278" height="32" fill="none" stroke="#555" stroke-width="0.8" stroke-dasharray="3 2"/>
<g id="clf-svm"><polygon class="ct" points="113,408 116,405 163,405 160,408"/><polygon class="cs" points="160,408 163,405 163,423 160,426"/><rect class="cf" x="113" y="408" width="47" height="18"/><text x="136.5" y="420" style="font-size:7.8px;text-anchor:middle">SVM</text></g>
<g id="clf-gnb"><polygon class="ct" points="166,408 169,405 216,405 213,408"/><polygon class="cs" points="213,408 216,405 216,423 213,426"/><rect class="cf" x="166" y="408" width="47" height="18"/><text x="189.5" y="420" style="font-size:7.8px;text-anchor:middle">GuassianNB</text></g>
<g id="clf-rf"><polygon class="ct" points="219,408 222,405 269,405 266,408"/><polygon class="cs" points="266,408 269,405 269,423 266,426"/><rect class="cf" x="219" y="408" width="47" height="18"/><text x="242.5" y="420" style="font-size:7.8px;text-anchor:middle">RF</text></g>
<g id="clf-xgb"><polygon class="ct" points="272,408 275,405 322,405 319,408"/><polygon class="cs" points="319,408 322,405 322,423 319,426"/><rect class="cf" x="272" y="408" width="47" height="18"/><text x="295.5" y="420" style="font-size:7.8px;text-anchor:middle">XGBoost</text></g>
<g id="clf-lgbm"><polygon class="ct" points="324,408 327,405 374,405 371,408"/><polygon class="cs" points="371,408 374,405 374,423 371,426"/><rect class="cf" x="324" y="408" width="47" height="18"/><text x="347.5" y="420" style="font-size:7.8px;text-anchor:middle">LightGBM</text></g>
</g>

<g id="predicted">
<rect x="207" y="455" width="71" height="11.5" fill="#fff" stroke="#9fb6dc" stroke-width="0.8"/>
<text x="242.5" y="464" style="font-size:7.6px;text-anchor:middle">Predicted results</text>
</g>

<!-- connectors -->
<g id="connectors">
<polyline class="conn" points="92,100 92,138 405,138"/>
<line class="conn" x1="405" y1="112" x2="405" y2="138"/>
<line class="conn" x1="238" y1="105" x2="238" y2="145" marker-end="url(#ah)"/>
<use href="#ba" transform="translate(40,57) rotate(90) scale(0.8)" fill="#555" stroke="#333" stroke-width="0.4"/>
<use href="#ba" transform="translate(55,82) rotate(-30)" fill="#f8d4b4" stroke="#d9894a" stroke-width="0.6"/>
<use href="#ba" transform="translate(128,30) rotate(148)" fill="#f6c59a" stroke="#c97a38" stroke-width="0.6"/>
<use href="#ba" transform="translate(130,61) rotate(180)" fill="#f7e24e" stroke="#c9a21e" stroke-width="0.6"/>
<use href="#ba" transform="translate(128,92) rotate(212)" fill="#e4731f" stroke="#a34a10" stroke-width="0.6"/>
<use href="#ba" transform="translate(172,61) rotate(180) scale(0.75)" fill="#666" stroke="#444" stroke-width="0.4"/>
<use href="#ba" transform="translate(304,61) scale(0.75)" fill="#777" stroke="#555" stroke-width="0.4"/>
<use href="#ba" transform="translate(357,35) rotate(47) scale(1.1)" fill="#dfe8f6" stroke="#5a7ab8" stroke-width="0.6"/>
<use href="#ba" transform="translate(358,71) scale(1.1)" fill="#a9c0e6" stroke="#5a7ab8" stroke-width="0.6"/>
<use href="#ba" transform="translate(357,102) rotate(-43) scale(1.1)" fill="#3a64b8" stroke="#2a4a90" stroke-width="0.6"/>
<use href="#ba" transform="translate(467,66.5) rotate(90) scale(0.8)" fill="#555" stroke="#333" stroke-width="0.4"/>
<use href="#ba" transform="translate(450,97) rotate(204) scale(1.2)" fill="#fff" stroke="#5a7ab8" stroke-width="0.6"/>
<polyline class="conn" points="87,346 87,362 428,362" stroke="#555"/>
<line class="conn" x1="428" y1="345" x2="428" y2="362" stroke="#555"/>
<line class="conn" x1="243" y1="348.5" x2="243" y2="377" marker-end="url(#ah)"/>
<line class="conn" x1="243" y1="383.5" x2="243" y2="399" marker-end="url(#ah)"/>
<line class="conn" x1="243" y1="431" x2="243" y2="454.5" marker-end="url(#ah)"/>
<text x="269" y="445" style="font-size:7.6px;font-weight:bold;text-anchor:middle">Soft-voting</text>
</g>
</svg>
